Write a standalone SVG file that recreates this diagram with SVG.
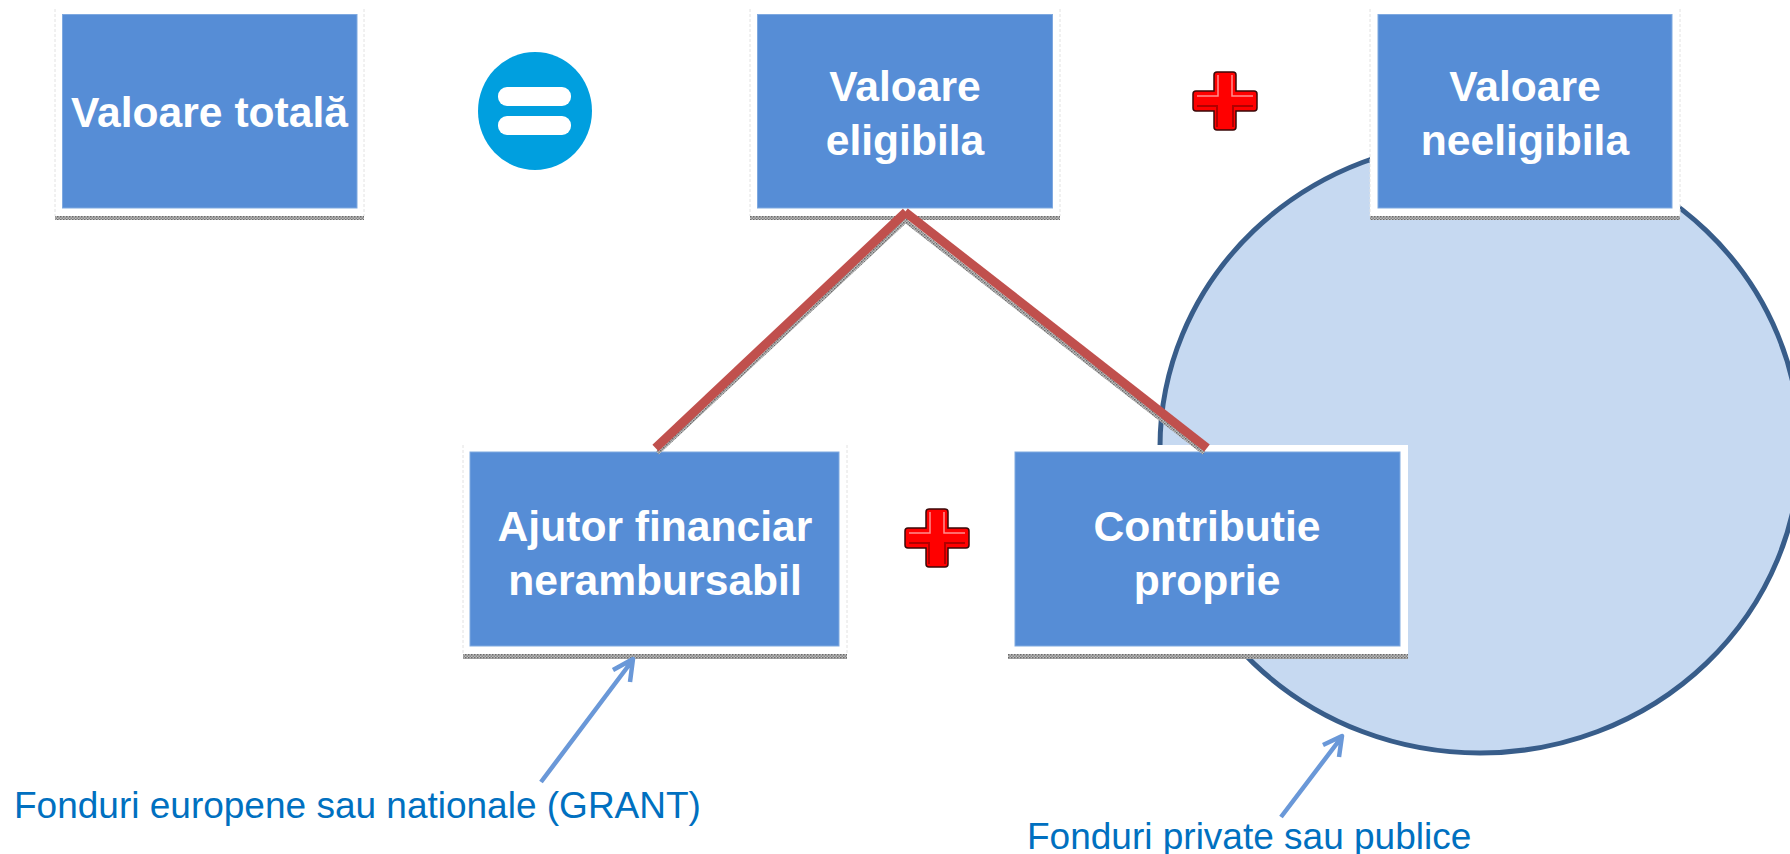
<svg xmlns="http://www.w3.org/2000/svg" width="1790" height="854" viewBox="0 0 1790 854">
<style>
.pad{fill:#fff}
.edge{stroke:#e2e2e2;stroke-width:1;stroke-dasharray:3 2;fill:none}
.blue{fill:#568dd6;stroke:#7fa9e0;stroke-width:1}
.sh{fill:url(#dith)}
.t{font-family:"Liberation Sans",Arial,sans-serif;font-weight:700;font-size:42.6px;fill:#fff;text-anchor:middle}
.cap{font-family:"Liberation Sans",Arial,sans-serif;font-size:37px;fill:#0070c0}
.red{stroke:#c0504d;stroke-width:9;fill:none}
.redsh{stroke:url(#dith);stroke-width:4;fill:none}
.arr{stroke:#6a98d8;stroke-width:4.5;fill:none;stroke-linejoin:round}
.pbody{fill:#f00;stroke:#3a0808;stroke-width:1.5}
.phi{fill:none;stroke:#ff8f8f;stroke-width:1.5}
.plo{fill:none;stroke:#b00000;stroke-width:2}
</style>
<defs>
<pattern id="dith" width="3" height="3" patternUnits="userSpaceOnUse"><rect width="3" height="3" fill="#bdbdbd"/><rect width="1.5" height="1.5" fill="#6a6a6a"/><rect x="1.5" y="1.5" width="1.5" height="1.5" fill="#8a8a8a"/></pattern>
<path id="plus" d="M-8 -29h16a3 3 0 0 1 3 3v16h18a3 3 0 0 1 3 3v14a3 3 0 0 1 -3 3h-18v16a3 3 0 0 1 -3 3h-16a3 3 0 0 1 -3 -3v-16h-18a3 3 0 0 1 -3 -3v-14a3 3 0 0 1 3 -3h18v-16a3 3 0 0 1 3 -3z"/>
</defs>

<g id="circle-fonduri"><ellipse cx="1480" cy="447" rx="320" ry="306" fill="#c6d9f1" stroke="#385d8a" stroke-width="5"/></g>

<g id="node-valoare-totala">
<rect class="pad" x="55" y="9" width="309" height="207"/><path class="edge" d="M55 9V216M364 9V216"/><rect class="sh" x="55" y="216" width="309" height="4"/>
<rect class="blue" x="62.5" y="14.500" width="294.500" height="193.500"/>
<text class="t" x="209.500" y="127">Valoare totală</text>
</g>

<g id="node-egal">
<ellipse cx="535" cy="111" rx="57" ry="59" fill="#009fdf"/>
<rect x="498" y="87" width="73" height="19" rx="9" fill="#fff"/>
<rect x="498" y="116" width="73" height="19" rx="9" fill="#fff"/>
</g>

<g id="node-valoare-eligibila">
<rect class="pad" x="750" y="9" width="310" height="207"/><path class="edge" d="M750 9V216M1060 9V216"/><rect class="sh" x="750" y="216" width="310" height="4"/>
<rect class="blue" x="757.500" y="14.500" width="295" height="193.500"/>
<text class="t" x="905" y="101">Valoare</text><text class="t" x="905" y="155">eligibila</text>
</g>

<g id="node-plus-1"><use href="#plus" class="pbody" x="1225" y="101"/><path class="phi" d="M1218 75v21h-21M1232 75v21h21"/><path class="plo" d="M1197 106h20v21M1253 106h-20v21"/></g>

<g id="node-valoare-neeligibila">
<rect class="pad" x="1370" y="9" width="310" height="207"/><path class="edge" d="M1370 9V216M1680 9V216"/><rect class="sh" x="1370" y="216" width="310" height="4"/>
<rect class="blue" x="1378" y="14.500" width="294" height="193.500"/>
<text class="t" x="1525" y="101">Valoare</text><text class="t" x="1525" y="155">neeligibila</text>
</g>

<g id="node-ajutor">
<rect class="pad" x="463" y="445" width="384" height="209"/><path class="edge" d="M463 445V654M847 445V654"/><rect class="sh" x="463" y="654" width="384" height="5"/>
<rect class="blue" x="470" y="452" width="369" height="194"/>
<text class="t" x="655" y="541">Ajutor financiar</text><text class="t" x="655" y="595">nerambursabil</text>
</g>

<g id="node-plus-2"><use href="#plus" class="pbody" x="937" y="538"/><path class="phi" d="M930 512v21h-21M944 512v21h21"/><path class="plo" d="M909 543h20v21M965 543h-20v21"/></g>

<g id="node-contributie">
<rect class="pad" x="1008" y="445" width="400" height="209"/><rect class="sh" x="1008" y="654" width="400" height="5"/>
<rect class="blue" x="1015" y="452" width="385" height="194"/>
<text class="t" x="1207" y="541">Contributie</text><text class="t" x="1207" y="595">proprie</text>
</g>

<g id="connectors">
<path class="redsh" d="M657.500 453L905.500 221L1204 453"/>
<path class="red" d="M655.500 448L906 212"/>
<path class="red" d="M905 212L1207 448"/>
<path class="arr" d="M541 782L632 661M613 670L633 659L630 682"/>
<path class="arr" d="M1281 817L1341 738M1323 745L1342 736L1339 757"/>
</g>

<g id="labels">
<text class="cap" x="14" y="818">Fonduri europene sau nationale (GRANT)</text>
<text class="cap" x="1027" y="849">Fonduri private sau publice</text>
</g>
</svg>
